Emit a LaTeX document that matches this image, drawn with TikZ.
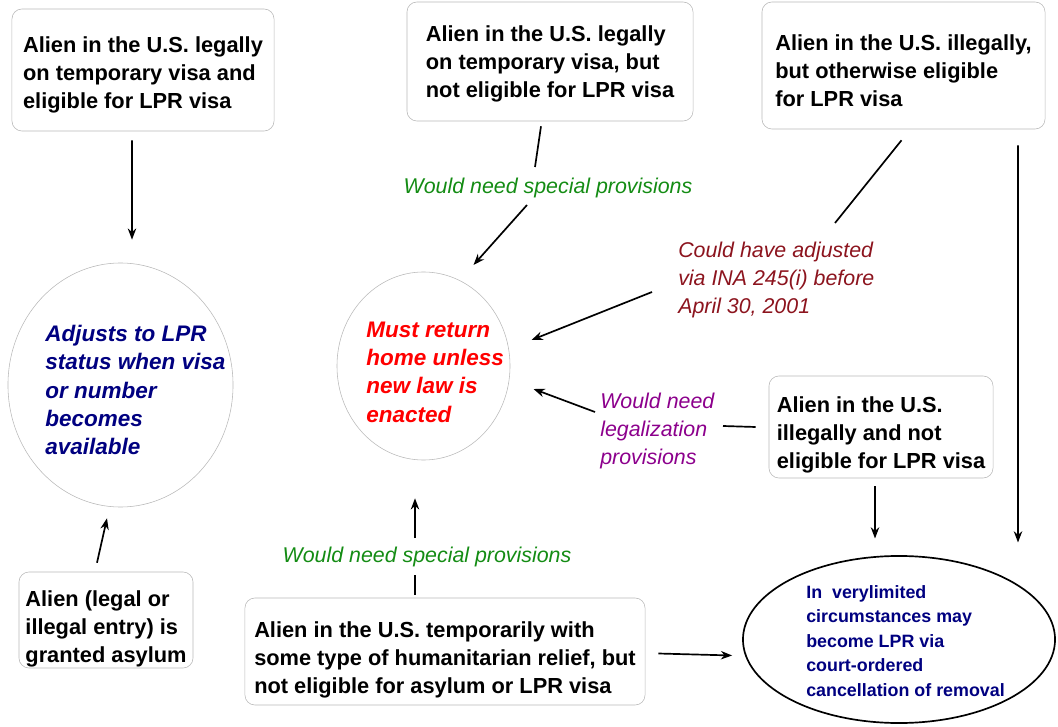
\documentclass[tikz,border=0pt]{standalone}
\usepackage{fontspec}
\setmainfont{Liberation Sans}
\usetikzlibrary{shapes.geometric,calc,arrows.meta}
\definecolor{navy}{RGB}{0,0,128}
\definecolor{lblgreen}{RGB}{20,140,20}
\definecolor{lblred}{RGB}{140,20,30}
\definecolor{lblpurple}{RGB}{140,0,140}
\tikzset{box/.style   = {rectangle, rounded corners=2.5mm, draw=gray!55, thin, align=left,
                         inner sep=0pt, text height=58pt, font=\bfseries\fontsize{15.5}{19.9}\selectfont},
         oval/.style  = {ellipse, draw=gray!55, thin, inner sep=0pt},
         goal/.style  = {align=left, inner sep=0pt, font=\bfseries\itshape\fontsize{16}{20.2}\selectfont},
         note/.style  = {align=left, inner sep=0pt, font=\itshape\fontsize{15.2}{19.6}\selectfont},
         ln/.style    = {line width=1.2pt}}

\begin{document}
\begin{tikzpicture}[x=0.025cm, y=-0.025cm, >={Stealth[length=8pt, width=6pt]}]
    \useasboundingbox (0,0) rectangle (1058,727);
    % starting situations
    \node[box, minimum width=6.55cm,  minimum height=3.05cm]  (legal)  at (143,70)    {Alien in the U.S. legally\\on temporary visa and\\eligible for LPR visa};
    \node[box, minimum width=7.15cm,  minimum height=2.975cm, text height=54pt] (temp) at (550,61.5) {Alien in the U.S. legally\\on temporary visa, but\\not eligible for LPR visa};
    \node[box, minimum width=7.075cm, minimum height=3.175cm] (illeg)  at (903.5,65.5) {Alien in the U.S. illegally,\\but otherwise eligible\\for LPR visa};
    \node[box, minimum width=5.6cm,   minimum height=2.55cm, text height=62.5pt] (notel) at (881,427) {Alien in the U.S.\\illegally and not\\eligible for LPR visa};
    \node[box, minimum width=4.35cm,  minimum height=2.4cm, text height=63.5pt] (asyl)  at (106,620) {Alien (legal or\\illegal entry) is\\granted asylum};
    \node[box, minimum width=10cm,    minimum height=2.675cm, text height=62.5pt] (human) at (445,651.5) {Alien in the U.S. temporarily with\\some type of humanitarian relief, but\\not eligible for asylum or LPR visa};
    % outcomes
    \node[oval, minimum width=5.625cm, minimum height=6.1cm] (adj)  at (120.5,385) {};
    \node[goal, navy, anchor=west] (adjtxt) at (45,390) {Adjusts to LPR\\status when visa\\or number\\becomes\\available};
    \node[oval, minimum width=4.325cm, minimum height=4.7cm] (must) at (423.5,366) {};
    \node[goal, red, anchor=west] (musttxt) at (366,372) {Must return\\home unless\\new law is\\enacted};
    \node[ellipse, draw, line width=1.2pt, inner sep=0pt, minimum width=7.8cm, minimum height=4.175cm] (remov) at (899,639.5) {};
    \node[align=left, inner sep=0pt, navy, anchor=west, font=\bfseries\fontsize{12.7}{17.4}\selectfont] (removtxt) at (806,641)
        {In~ verylimited\\circumstances may\\become LPR via\\court-ordered\\cancellation of removal};
    % labels on the connectors
    \node[note, lblgreen] (spec1) at (548,188) {Would need special provisions};
    \node[note, lblgreen] (spec2) at (427,557) {Would need special provisions};
    \node[note, lblred, anchor=west]    (adjust) at (678,280) {Could have adjusted\\via INA 245(i) before\\April 30, 2001};
    \node[note, lblpurple, anchor=west] (legaliz) at (600,431) {Would need\\legalization\\provisions};
    % connectors
    \draw[ln, ->] ($(legal.south)+(-11,9)$) -- ($(adj.north)+(11.5,-23)$);
    \draw[ln] ($(temp.south)+(-9,5)$) -- ($(spec1)+(-13,-21)$);
    \draw[ln, ->] ($(spec1)+(-21,17)$) -- ($(must)+(50,-101)$);
    \draw[ln] ($(illeg.south)+(-2,11)$) -- ($(adjust.west)+(157,-57)$);
    \draw[ln, ->] ($(adjust.west)+(-26,12)$) -- ($(must)+(108,-26)$);
    \draw[ln, ->] ($(illeg.south)+(114.5,16)$) -- ($(remov)+(119,-97)$);
    \draw[ln] ($(notel.west)+(-13,0)$) -- ($(legaliz.west)+(123,-5)$);
    \draw[ln, ->] ($(legaliz.west)+(-5,-19)$) -- ($(must)+(110,23)$);
    \draw[ln, ->] ($(notel.south)+(-6,8)$) -- ($(remov)+(-24,-101)$);
    \draw[ln, ->] ($(asyl.north)+(-9,-9)$) -- ($(adj.south)+(-13.5,11)$);
    \draw[ln] ($(human.north)+(-30,-3)$) -- ($(spec2)+(-12,18)$);
    \draw[ln, ->] ($(spec2)+(-12,-19)$) -- ($(must.south)+(-8.5,38)$);
    \draw[ln, ->] ($(human.east)+(13,2)$) -- ($(remov.west)+(-10,16)$);
\end{tikzpicture}
\end{document}
